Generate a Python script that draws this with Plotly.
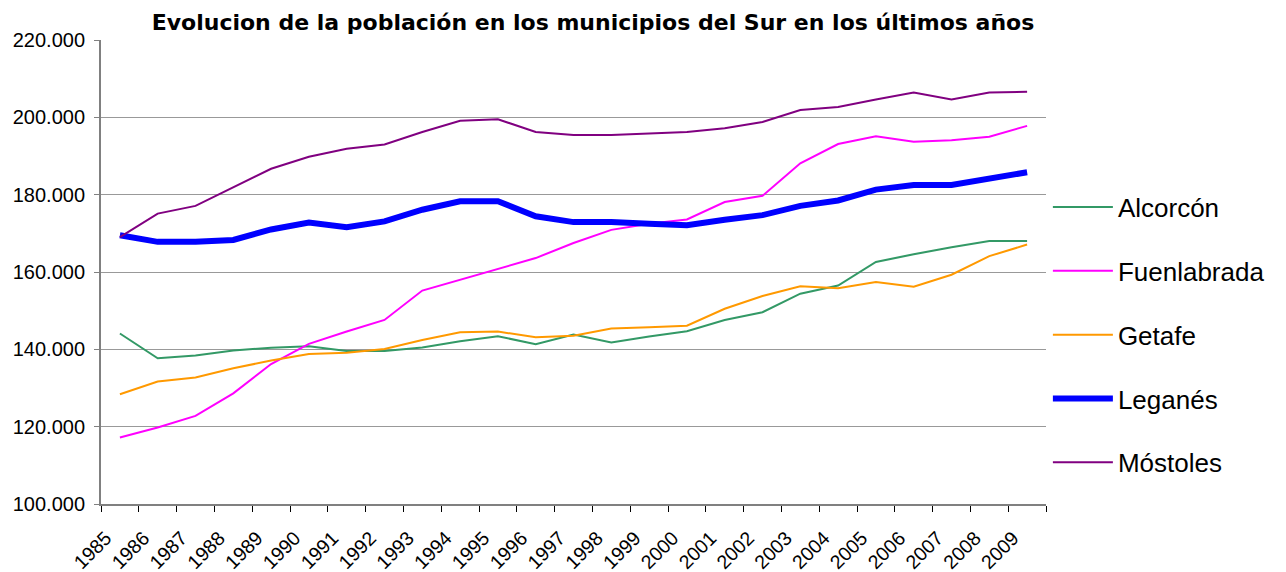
import plotly.graph_objects as go

years = [str(y) for y in range(1985, 2010)]

alcorcon = [144100, 137700, 138400, 139700, 140400, 140800, 139600, 139600, 140500, 142100,
            143400, 141300, 143800, 141800, 143300, 144700, 147600, 149600, 154400, 156500,
            162600, 164600, 166400, 168000, 168000]
fuenlabrada = [117200, 119800, 122800, 128600, 136200, 141400, 144600, 147600, 155200, 158000,
               160600, 163600, 167500, 170900, 172500, 173600, 178100, 179700, 188100, 193100,
               195100, 193700, 194100, 195000, 197800]
getafe = [128400, 131700, 132700, 135100, 137100, 138800, 139100, 140100, 142400, 144400,
          144600, 143100, 143500, 145400, 145700, 146100, 150500, 153800, 156300, 155800,
          157400, 156200, 159300, 164100, 167100]
leganes = [169500, 167800, 167800, 168300, 171000, 172800, 171600, 173100, 176100, 178300,
           178300, 174400, 172900, 172900, 172500, 172100, 173500, 174700, 177100, 178500,
           181300, 182500, 182500, 184200, 185800]
mostoles = [169000, 175100, 177100, 181900, 186700, 189800, 191900, 193000, 196200, 199100,
            199500, 196200, 195400, 195400, 195800, 196200, 197200, 198800, 201900, 202700,
            204600, 206400, 204600, 206400, 206600]

names = ["Alcorcón", "Fuenlabrada", "Getafe", "Leganés", "Móstoles"]
series = [alcorcon, fuenlabrada, getafe, leganes, mostoles]
colors = ["#339966", "#FF00FF", "#FF9900", "#0000FF", "#800080"]
widths = [2, 2, 2, 6, 2]

title = "Evolucion de la población en los municipios del Sur en los últimos años"

fig = go.Figure()
for i, (n, s, c, w) in enumerate(zip(names, series, colors, widths)):
    fig.add_trace(go.Scatter(x=years, y=s, name=n, mode="lines",
                             line=dict(color=c, width=w), legendgroup=str(i)))

# the page shows the figure with an 8px body offset, so the figure is sized to the visible area
fig.update_layout(
    width=1278, height=564,
    margin=dict(l=93, r=240, t=32, b=68),
    paper_bgcolor="white", plot_bgcolor="white",
    separators=",.",
    font=dict(family="Liberation Sans, Arial, sans-serif", color="black"),
    title=dict(text="<b>" + title + "</b>", x=585 / 1278, xanchor="center",
               y=1 - 14 / 564, yanchor="middle",
               font=dict(family="DejaVu Sans, Verdana, sans-serif", size=22, color="black")),
    showlegend=True,
    legend=dict(x=1.002, xanchor="left", y=0.365, yanchor="middle",
                font=dict(size=26, family="Liberation Sans, Arial, sans-serif"),
                tracegroupgap=27, itemwidth=60, bgcolor="rgba(0,0,0,0)"),
)
fig.update_xaxes(type="category", range=[-0.5, 24.5], tickson="boundaries",
                 ticks="outside", ticklen=6, tickcolor="black", tickwidth=1,
                 showline=True, linecolor="#808080", linewidth=2,
                 showgrid=False, tickangle=-45, automargin=False,
                 ticklabelstandoff=13, ticklabelshift=-14,
                 tickfont=dict(size=19.5, family="Liberation Sans, Arial, sans-serif"))
fig.update_yaxes(range=[100000, 220000], dtick=20000, tickformat=",d",
                 ticks="outside", ticklen=5, tickcolor="#808080",
                 showline=True, linecolor="#808080", linewidth=2, automargin=False,
                 ticklabelstandoff=5,
                 showgrid=True, gridcolor="#999999", gridwidth=1, zeroline=False,
                 tickfont=dict(size=20, family="Liberation Sans, Arial, sans-serif"))

fig.write_html("out.html")
